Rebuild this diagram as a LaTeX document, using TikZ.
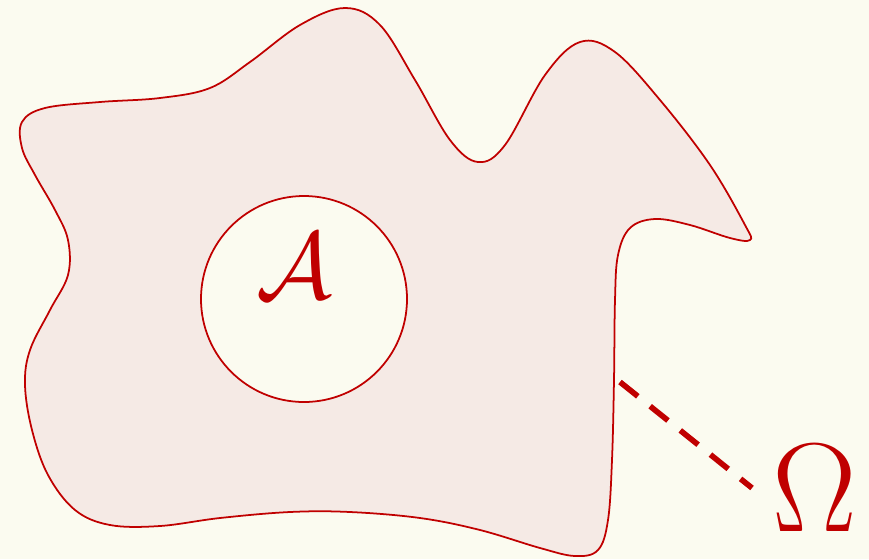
\RequirePackage{fix-cm}
\documentclass[tikz,border=0pt]{standalone}
\usepackage{xcolor}
\usepackage{amsmath}
\usepackage{tikz}
\usetikzlibrary{positioning}
\definecolor{bgcream}{HTML}{FBFBF0}
\definecolor{regionfill}{HTML}{F5EAE5}
\definecolor{regionline}{HTML}{C00000}

\begin{document}
\begin{tikzpicture}[
  region/.style={draw=regionline, line width=0.5pt, fill=regionfill},
  hole/.style={draw=regionline, line width=0.5pt, fill=bgcream},
  lbl/.style={text=regionline, inner sep=0pt},
  pointer/.style={draw=regionline, line width=1.6pt, dash pattern=on 6.5pt off 4.5pt}
]
  \fill[bgcream] (0,0) rectangle (8.69,5.59);
  \useasboundingbox (0,0) rectangle (8.69,5.59);

  % the domain
  \draw[region] plot[smooth cycle, tension=0.6] coordinates {
    (0.22,4.37) (0.45,4.51) (1.00,4.57) (1.60,4.61) (2.10,4.71) (2.50,4.97)
    (3.00,5.34) (3.45,5.51) (3.80,5.34) (4.15,4.79) (4.50,4.19) (4.78,3.97)
    (5.05,4.14) (5.45,4.84) (5.80,5.17) (6.15,5.07) (6.60,4.59) (7.10,3.94)
    (7.45,3.34) (7.50,3.19) (7.30,3.21) (6.90,3.34) (6.55,3.40) (6.30,3.31)
    (6.18,3.04) (6.15,2.59) (6.14,1.79) (6.12,0.99) (6.08,0.39) (5.98,0.09)
    (5.75,0.03) (5.40,0.11) (4.80,0.29) (4.20,0.41) (3.50,0.47) (2.90,0.47)
    (2.20,0.41) (1.60,0.33) (1.10,0.34) (0.75,0.49) (0.48,0.84) (0.32,1.29)
    (0.25,1.74) (0.30,2.09) (0.50,2.49) (0.68,2.84) (0.68,3.19) (0.55,3.49)
    (0.35,3.84) (0.22,4.11)
  };
  \draw[hole] (3.04,2.60) circle (1.03);

  \node[lbl, font=\fontsize{27}{32}\selectfont] (setA) at (2.94,2.93) {$\mathcal{A}$};
  \node[lbl, font=\fontsize{36}{42}\selectfont] (omega) at (8.15,0.71) {$\Omega$};

  \coordinate (rim) at (6.20,1.77);
  \coordinate (tip) at (7.52,0.71);
  \draw[pointer] (rim) -- (tip);
\end{tikzpicture}
\end{document}
